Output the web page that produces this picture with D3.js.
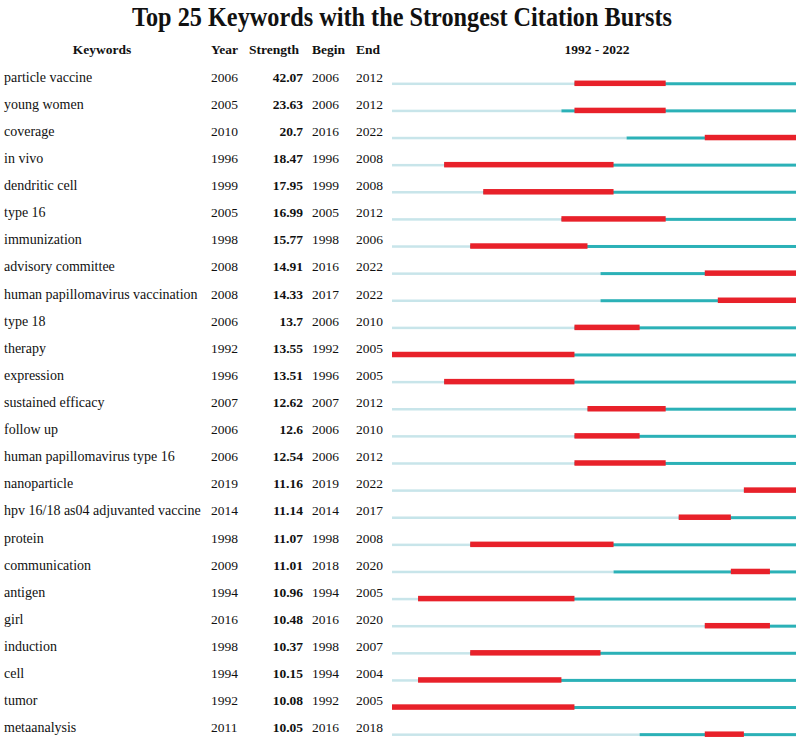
<!DOCTYPE html>
<html>
<head>
<meta charset="utf-8">
<script src="https://cdn.jsdelivr.net/npm/d3@7"></script>
<style>
  body { margin: 0; background: #fff; }
  svg { display: block; }
  text { font-family: "Liberation Serif", "Times New Roman", serif; fill: #111; }
</style>
</head>
<body>
<svg id="chart" width="800" height="740"></svg>
<script>
const keywords = ["particle vaccine","young women","coverage","in vivo","dendritic cell","type 16","immunization","advisory committee","human papillomavirus vaccination","type 18","therapy","expression","sustained efficacy","follow up","human papillomavirus type 16","nanoparticle","hpv 16/18 as04 adjuvanted vaccine","protein","communication","antigen","girl","induction","cell","tumor","metaanalysis"];
const years = [2006,2005,2010,1996,1999,2005,1998,2008,2008,2006,1992,1996,2007,2006,2006,2019,2014,1998,2009,1994,2016,1998,1994,1992,2011];
const strengths = ["42.07","23.63","20.7","18.47","17.95","16.99","15.77","14.91","14.33","13.7","13.55","13.51","12.62","12.6","12.54","11.16","11.14","11.07","11.01","10.96","10.48","10.37","10.15","10.08","10.05"];
const begins = [2006,2006,2016,1996,1999,2005,1998,2016,2017,2006,1992,1996,2007,2006,2006,2019,2014,1998,2018,1994,2016,1998,1994,1992,2016];
const ends = [2012,2012,2022,2008,2008,2012,2006,2022,2022,2010,2005,2005,2012,2010,2012,2022,2017,2008,2020,2005,2020,2007,2004,2005,2018];
const startYear = 1992, endYear = 2022;

const svg = d3.select("#chart");
const x = d3.scaleLinear().domain([startYear, endYear + 1]).range([392, 796]);
const y = d3.scaleBand().domain(d3.range(keywords.length)).range([63.5, 741.5]);

const rows = keywords.map((k, i) => ({k, year: years[i], s: strengths[i], b: begins[i], e: ends[i], i}));

svg.append("text").attr("x", 402).attr("y", 26).attr("text-anchor", "middle")
  .attr("font-size", 27).attr("font-weight", "bold")
  .attr("textLength", 540).attr("lengthAdjust", "spacingAndGlyphs")
  .text("Top 25 Keywords with the Strongest Citation Bursts");

const hdr = svg.append("g").attr("font-size", 13.5).attr("font-weight", "bold");
const hy = 54;
hdr.append("text").attr("x", 102).attr("y", hy).attr("text-anchor", "middle").text("Keywords");
hdr.append("text").attr("x", 211).attr("y", hy).text("Year");
hdr.append("text").attr("x", 249).attr("y", hy).text("Strength");
hdr.append("text").attr("x", 312).attr("y", hy).text("Begin");
hdr.append("text").attr("x", 356).attr("y", hy).text("End");
hdr.append("text").attr("x", 597).attr("y", hy).attr("text-anchor", "middle").text(`${startYear} - ${endYear}`);

const g = svg.selectAll("g.row").data(rows).join("g").attr("class", "row")
  .attr("transform", d => `translate(0,${y(d.i) + y.bandwidth() / 2})`);

g.append("text").attr("x", 4).attr("y", 4.5).attr("font-size", 14).text(d => d.k);
g.append("text").attr("x", 211).attr("y", 4.5).attr("font-size", 13.5).text(d => d.year);
g.append("text").attr("x", 303).attr("y", 4.5).attr("font-size", 13.5).attr("font-weight", "bold").attr("text-anchor", "end").text(d => d.s);
g.append("text").attr("x", 312).attr("y", 4.5).attr("font-size", 13.5).text(d => d.b);
g.append("text").attr("x", 356).attr("y", 4.5).attr("font-size", 13.5).text(d => d.e);

// light segment before keyword appears
g.append("rect").attr("x", x(startYear)).attr("width", d => x(d.year) - x(startYear))
  .attr("y", 5.5).attr("height", 2.5).attr("fill", "#c8e5ea");
// teal segment after appearance
g.append("rect").attr("x", d => x(d.year)).attr("width", d => x(endYear + 1) - x(d.year))
  .attr("y", 5.2).attr("height", 3).attr("fill", "#2bb1b7");
// red burst
g.append("rect").attr("x", d => x(d.b)).attr("width", d => x(d.e + 1) - x(d.b))
  .attr("y", 3.5).attr("height", 5.5).attr("fill", "#e8212a");
</script>
</body>
</html>
